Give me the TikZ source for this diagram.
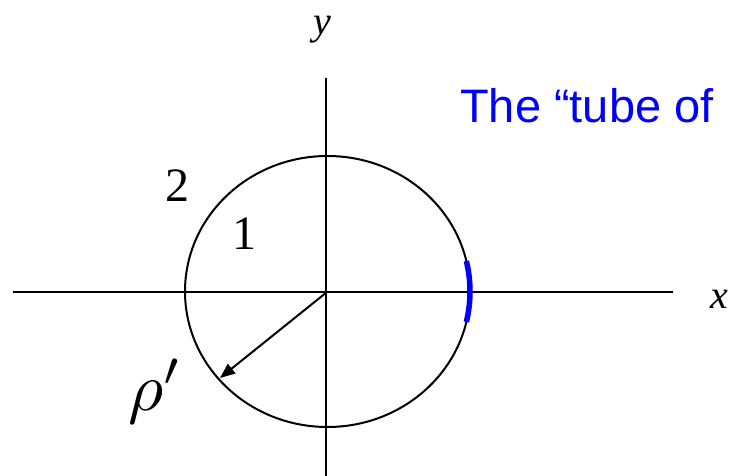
\documentclass[tikz,border=0pt]{standalone}
\usepackage{fontspec}
\setmainfont{Liberation Serif}
\newfontfamily\labsans{Liberation Sans}
\usetikzlibrary{arrows.meta}
\begin{document}
\begin{tikzpicture}[x=1pt,y=-1pt,
  axisline/.style={line width=2pt,black},
  circ/.style={line width=2pt,black},
  lbl/.style={inner sep=0pt,anchor=base west}]
\useasboundingbox (0,0) rectangle (729,476);
\coordinate (xl) at (13,292);
\coordinate (xr) at (673,292);
\coordinate (yt) at (326,78);
\coordinate (yb) at (326,480);
\coordinate (o) at (327,292);
\draw[axisline] (xl) -- (xr);
\draw[axisline] (yt) -- (yb);
\draw[circ] (327.5,291.5) ellipse [x radius=142.5, y radius=135.5];
\coordinate (tip) at (220,378);
\draw[line width=2pt,-{Triangle[length=15pt,width=12pt]}] (o) -- (tip);
\draw[blue,line width=5.5pt] (327.5,291.5) ++(13:142.5 and 135.5)
  arc [start angle=13, end angle=-13, x radius=142.5, y radius=135.5];
\node[lbl,font=\fontsize{40}{40}\selectfont\itshape] (ylab) at (313,35) {y};
\node[lbl,font=\fontsize{40}{40}\selectfont\itshape] (xlab) at (710,308) {x};
\node[lbl,font=\fontsize{48}{48}\selectfont] (two) at (165,202) {2};
\node[lbl,font=\fontsize{48}{48}\selectfont] (one) at (232,249) {1};
\node[lbl] (rho) at (128,410) {\scalebox{6.8}{$\rho'$}};
\node[lbl,font=\labsans\fontsize{47}{47}\selectfont,text=blue] (tube) at (460,123) {The “tube of};
\end{tikzpicture}
\end{document}
